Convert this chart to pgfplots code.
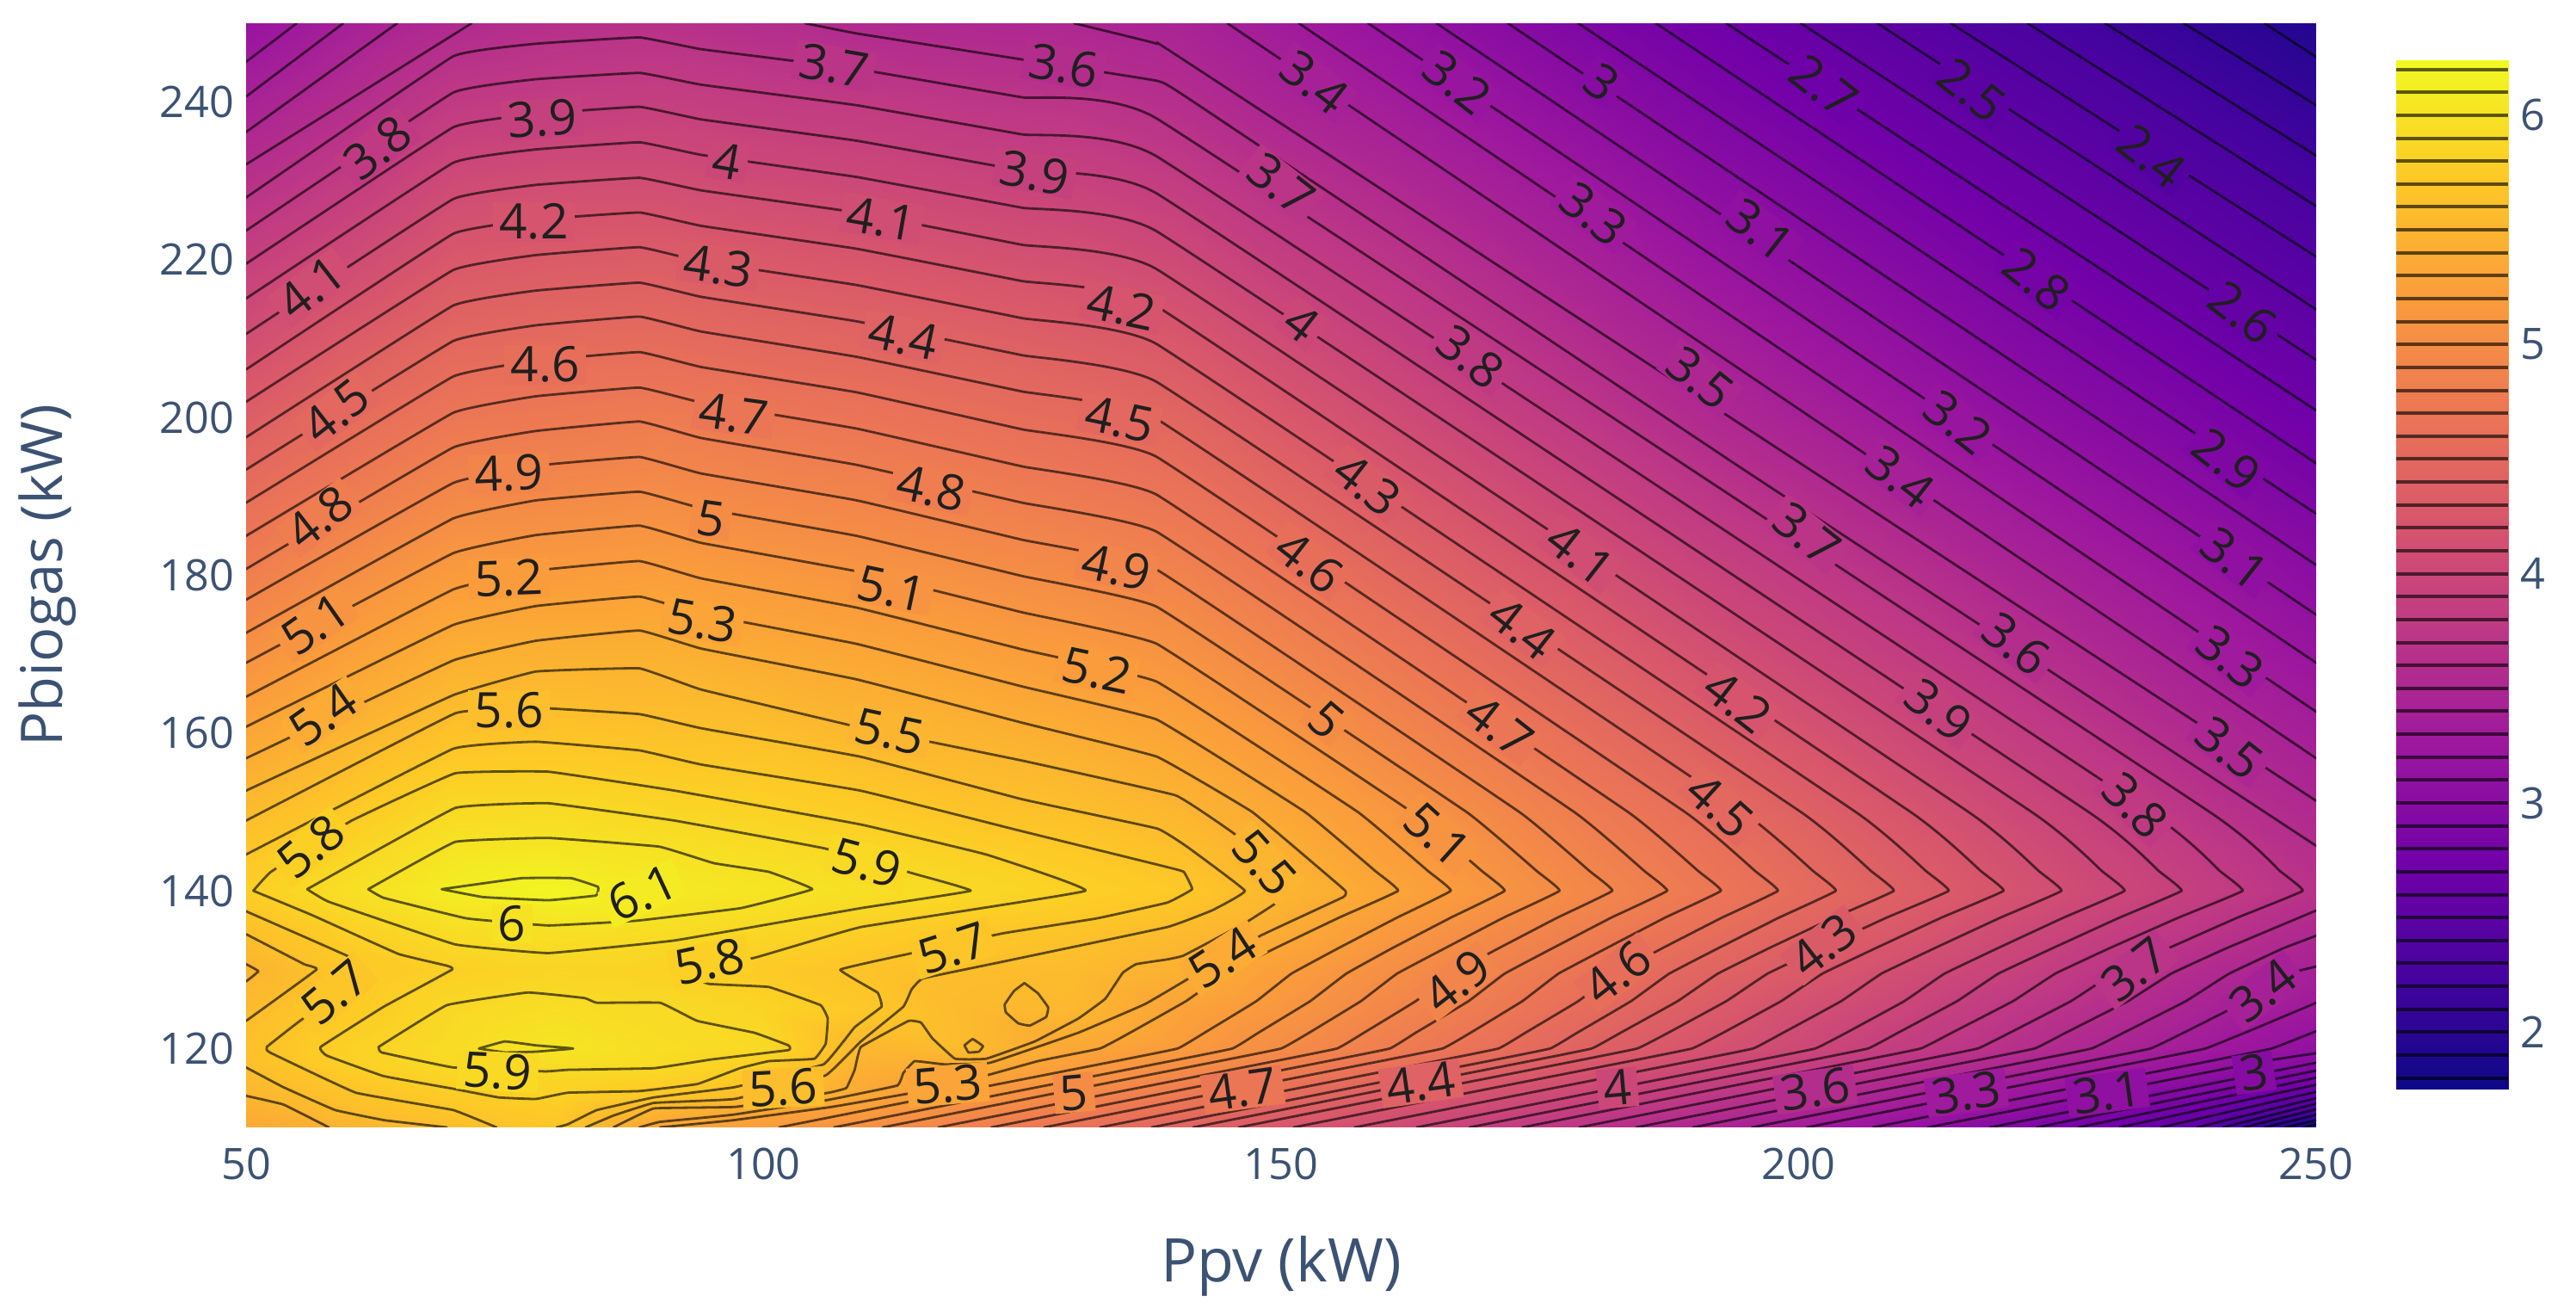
\documentclass[border=0pt]{standalone}
\usepackage{pgfplots}
\usepackage{fontspec}
\setmainfont{Open Sans}
\pgfplotsset{compat=1.18}
\definecolor{pl0}{RGB}{13,8,135}
\definecolor{pl1}{RGB}{70,3,159}
\definecolor{pl2}{RGB}{114,1,168}
\definecolor{pl3}{RGB}{156,23,158}
\definecolor{pl4}{RGB}{189,55,134}
\definecolor{pl5}{RGB}{216,87,107}
\definecolor{pl6}{RGB}{237,121,83}
\definecolor{pl7}{RGB}{251,159,58}
\definecolor{pl8}{RGB}{253,202,38}
\definecolor{pl9}{RGB}{240,249,33}
\definecolor{tickc}{RGB}{60,82,115}
\globalcolorstrue
\foreach \L in {20,...,61}{%
  \pgfmathsetmacro{\tt}{(\L/10-1.75)/4.49*9}%
  \pgfmathtruncatemacro{\ia}{floor(\tt)}%
  \pgfmathtruncatemacro{\ib}{\ia+1}%
  \pgfmathtruncatemacro{\pc}{(\tt-\ia)*100}%
  \colorlet{lv\L}{pl\ib!\pc!pl\ia}%
}
\pgfplotsset{
  colormap={plasma}{rgb255=(13,8,135) rgb255=(70,3,159) rgb255=(114,1,168) rgb255=(156,23,158) rgb255=(189,55,134) rgb255=(216,87,107) rgb255=(237,121,83) rgb255=(251,159,58) rgb255=(253,202,38) rgb255=(240,249,33)},
  cl/.style={black,opacity=0.62,line width=0.7pt,line join=round,line cap=round,no markers,forget plot,smooth,tension=0.14}
}
\tikzset{lbl/.style={font=\fontsize{14.2}{14.2}\selectfont,text=black!88,inner xsep=1.8pt,inner ysep=0.2pt,text height=10.5pt,text depth=0.5pt,anchor=center}}
\newcommand\lab[5]{\node[lbl,rotate=#3,fill=lv#5] at (axis cs:#1,#2) {#4};}
\begin{document}
\begin{tikzpicture}
\path[use as bounding box] (0,0) rectangle (748.5pt,382pt);
\begin{axis}[
  at={(71.5pt,54.5pt)},anchor=south west,
  scale only axis,width=601.5pt,height=320.75pt,
  view={0}{90},
  xmin=50,xmax=250,ymin=110,ymax=250,
  xtick={50,100,150,200,250},ytick={120,140,160,180,200,220,240},
  axis line style={draw=none},tick style={draw=none},major tick length=0pt,
  /pgf/number format/assume math mode=true,
  tick label style={font=\fontsize{12.6}{13}\selectfont,text=tickc},
  xticklabel style={yshift=-2.4pt},
  xlabel={Ppv (kW)},ylabel={Pbiogas (kW)},
  every axis x label/.style={at={(axis description cs:0.5,-0.126)},anchor=center,font=\fontsize{17.5}{18}\selectfont,text=tickc},
  every axis y label/.style={at={(axis description cs:-0.096,0.5)},anchor=center,rotate=90,font=\fontsize{16.7}{17}\selectfont,text=tickc},
  point meta min=1.75,point meta max=6.24,
  colormap name=plasma,
  clip=true,
]
\addplot3[surf,shader=interp,mesh/ordering=y varies,mesh/rows=22,mesh/cols=21,forget plot] table[row sep=\\,header=false]{
50 110 5.35\\50 112 5.42\\50 114 5.50\\50 116 5.57\\50 118 5.61\\50 120 5.63\\50 125 5.57\\50 130 5.48\\50 135 5.62\\50 140 5.79\\50 145 5.69\\50 150 5.57\\50 160 5.32\\50 170 5.07\\50 180 4.82\\50 190 4.59\\50 200 4.35\\50 210 4.11\\50 220 3.89\\50 230 3.65\\50 240 3.42\\50 250 3.18\\
60 110 5.47\\60 112 5.59\\60 114 5.66\\60 116 5.72\\60 118 5.80\\60 120 5.82\\60 125 5.74\\60 130 5.71\\60 135 5.81\\60 140 5.97\\60 145 5.85\\60 150 5.73\\60 160 5.50\\60 170 5.26\\60 180 5.03\\60 190 4.79\\60 200 4.55\\60 210 4.32\\60 220 4.06\\60 230 3.83\\60 240 3.60\\60 250 3.39\\
70 110 5.60\\70 112 5.69\\70 114 5.76\\70 116 5.84\\70 118 5.91\\70 120 5.93\\70 125 5.89\\70 130 5.80\\70 135 5.95\\70 140 6.12\\70 145 6.03\\70 150 5.91\\70 160 5.65\\70 170 5.43\\70 180 5.19\\70 190 4.95\\70 200 4.71\\70 210 4.49\\70 220 4.26\\70 230 4.05\\70 240 3.80\\70 250 3.55\\
80 110 5.70\\80 112 5.74\\80 114 5.82\\80 116 5.85\\80 118 5.93\\80 120 6.03\\80 125 5.95\\80 130 5.85\\80 135 5.98\\80 140 6.20\\80 145 6.04\\80 150 5.92\\80 160 5.67\\80 170 5.45\\80 180 5.20\\80 190 4.97\\80 200 4.74\\80 210 4.53\\80 220 4.31\\80 230 4.10\\80 240 3.85\\80 250 3.64\\
90 110 5.30\\90 112 5.47\\90 114 5.71\\90 116 5.82\\90 118 5.91\\90 120 5.95\\90 125 5.91\\90 130 5.82\\90 135 5.95\\90 140 6.08\\90 145 6.00\\90 150 5.87\\90 160 5.64\\90 170 5.45\\90 180 5.23\\90 190 5.00\\90 200 4.78\\90 210 4.55\\90 220 4.33\\90 230 4.10\\90 240 3.88\\90 250 3.66\\
100 110 5.21\\100 112 5.32\\100 114 5.57\\100 116 5.70\\100 118 5.79\\100 120 5.90\\100 125 5.85\\100 130 5.74\\100 135 5.88\\100 140 6.03\\100 145 5.94\\100 150 5.83\\100 160 5.62\\100 170 5.38\\100 180 5.16\\100 190 4.94\\100 200 4.71\\100 210 4.49\\100 220 4.27\\100 230 4.05\\100 240 3.83\\100 250 3.60\\
110 110 5.03\\110 112 5.19\\110 114 5.33\\110 116 5.38\\110 118 5.45\\110 120 5.52\\110 125 5.71\\110 130 5.66\\110 135 5.79\\110 140 5.97\\110 145 5.87\\110 150 5.76\\110 160 5.52\\110 170 5.33\\110 180 5.11\\110 190 4.89\\110 200 4.67\\110 210 4.45\\110 220 4.23\\110 230 4.01\\110 240 3.80\\110 250 3.54\\
120 110 4.84\\120 112 4.98\\120 114 5.16\\120 116 5.30\\120 118 5.42\\120 120 5.56\\120 125 5.55\\120 130 5.59\\120 135 5.71\\120 140 5.90\\120 145 5.80\\120 150 5.67\\120 160 5.48\\120 170 5.26\\120 180 5.04\\120 190 4.83\\120 200 4.61\\120 210 4.40\\120 220 4.18\\120 230 3.96\\120 240 3.74\\120 250 3.52\\
130 110 4.65\\130 112 4.79\\130 114 4.93\\130 116 5.12\\130 118 5.23\\130 120 5.34\\130 125 5.53\\130 130 5.57\\130 135 5.67\\130 140 5.82\\130 145 5.73\\130 150 5.62\\130 160 5.40\\130 170 5.19\\130 180 4.98\\130 190 4.76\\130 200 4.55\\130 210 4.34\\130 220 4.13\\130 230 3.92\\130 240 3.71\\130 250 3.50\\
140 110 4.44\\140 112 4.60\\140 114 4.75\\140 116 4.90\\140 118 5.05\\140 120 5.20\\140 125 5.29\\140 130 5.45\\140 135 5.58\\140 140 5.73\\140 145 5.62\\140 150 5.51\\140 160 5.30\\140 170 5.09\\140 180 4.88\\140 190 4.67\\140 200 4.46\\140 210 4.25\\140 220 4.04\\140 230 3.83\\140 240 3.62\\140 250 3.44\\
150 110 4.22\\150 112 4.38\\150 114 4.56\\150 116 4.70\\150 118 4.86\\150 120 5.00\\150 125 5.13\\150 130 5.23\\150 135 5.39\\150 140 5.52\\150 145 5.43\\150 150 5.34\\150 160 5.13\\150 170 4.91\\150 180 4.70\\150 190 4.48\\150 200 4.27\\150 210 4.07\\150 220 3.86\\150 230 3.66\\150 240 3.45\\150 250 3.32\\
160 110 4.07\\160 112 4.18\\160 114 4.33\\160 116 4.51\\160 118 4.66\\160 120 4.81\\160 125 4.93\\160 130 5.04\\160 135 5.18\\160 140 5.33\\160 145 5.24\\160 150 5.15\\160 160 4.94\\160 170 4.73\\160 180 4.51\\160 190 4.30\\160 200 4.09\\160 210 3.90\\160 220 3.72\\160 230 3.53\\160 240 3.34\\160 250 3.18\\
170 110 3.87\\170 112 4.01\\170 114 4.14\\170 116 4.29\\170 118 4.46\\170 120 4.62\\170 125 4.75\\170 130 4.86\\170 135 4.99\\170 140 5.13\\170 145 5.05\\170 150 4.96\\170 160 4.75\\170 170 4.54\\170 180 4.33\\170 190 4.12\\170 200 3.91\\170 210 3.73\\170 220 3.56\\170 230 3.38\\170 240 3.20\\170 250 3.03\\
180 110 3.69\\180 112 3.82\\180 114 3.97\\180 116 4.10\\180 118 4.24\\180 120 4.40\\180 125 4.54\\180 130 4.67\\180 135 4.81\\180 140 4.94\\180 145 4.86\\180 150 4.77\\180 160 4.56\\180 170 4.36\\180 180 4.15\\180 190 3.95\\180 200 3.74\\180 210 3.57\\180 220 3.40\\180 230 3.23\\180 240 3.05\\180 250 2.88\\
190 110 3.50\\190 112 3.64\\190 114 3.78\\190 116 3.93\\190 118 4.07\\190 120 4.20\\190 125 4.33\\190 130 4.47\\190 135 4.62\\190 140 4.75\\190 145 4.67\\190 150 4.58\\190 160 4.38\\190 170 4.17\\190 180 3.97\\190 190 3.76\\190 200 3.56\\190 210 3.40\\190 220 3.23\\190 230 3.07\\190 240 2.90\\190 250 2.75\\
200 110 3.32\\200 112 3.45\\200 114 3.60\\200 116 3.74\\200 118 3.88\\200 120 4.03\\200 125 4.13\\200 130 4.29\\200 135 4.44\\200 140 4.56\\200 145 4.49\\200 150 4.40\\200 160 4.20\\200 170 4.00\\200 180 3.81\\200 190 3.61\\200 200 3.41\\200 210 3.25\\200 220 3.09\\200 230 2.93\\200 240 2.77\\200 250 2.60\\
210 110 3.15\\210 112 3.28\\210 114 3.42\\210 116 3.55\\210 118 3.69\\210 120 3.84\\210 125 3.97\\210 130 4.11\\210 135 4.26\\210 140 4.38\\210 145 4.31\\210 150 4.22\\210 160 4.03\\210 170 3.84\\210 180 3.65\\210 190 3.46\\210 200 3.27\\210 210 3.11\\210 220 2.95\\210 230 2.79\\210 240 2.63\\210 250 2.47\\
220 110 2.96\\220 112 3.10\\220 114 3.24\\220 116 3.37\\220 118 3.51\\220 120 3.65\\220 125 3.77\\220 130 3.93\\220 135 4.06\\220 140 4.20\\220 145 4.13\\220 150 4.04\\220 160 3.86\\220 170 3.67\\220 180 3.49\\220 190 3.30\\220 200 3.12\\220 210 2.96\\220 220 2.81\\220 230 2.65\\220 240 2.49\\220 250 2.33\\
230 110 2.71\\230 112 2.90\\230 114 3.07\\230 116 3.20\\230 118 3.33\\230 120 3.47\\230 125 3.60\\230 130 3.73\\230 135 3.88\\230 140 4.02\\230 145 3.95\\230 150 3.87\\230 160 3.69\\230 170 3.51\\230 180 3.34\\230 190 3.16\\230 200 2.98\\230 210 2.83\\230 220 2.67\\230 230 2.52\\230 240 2.36\\230 250 2.20\\
240 110 2.42\\240 112 2.65\\240 114 2.85\\240 116 3.03\\240 118 3.16\\240 120 3.29\\240 125 3.41\\240 130 3.55\\240 135 3.71\\240 140 3.85\\240 145 3.78\\240 150 3.69\\240 160 3.52\\240 170 3.35\\240 180 3.19\\240 190 3.02\\240 200 2.85\\240 210 2.69\\240 220 2.54\\240 230 2.38\\240 240 2.22\\240 250 2.06\\
250 110 1.75\\250 112 2.26\\250 114 2.54\\250 116 2.79\\250 118 2.98\\250 120 3.12\\250 125 3.28\\250 130 3.39\\250 135 3.52\\250 140 3.68\\250 145 3.61\\250 150 3.53\\250 160 3.37\\250 170 3.20\\250 180 3.04\\250 190 2.87\\250 200 2.71\\250 210 2.56\\250 220 2.40\\250 230 2.25\\250 240 2.09\\250 250 1.93\\
};
% top-right family
\addplot[cl] coordinates {(245,250)(250,245.7)};
\addplot[cl] coordinates {(237.2,250)(250,239.6)};
\addplot[cl] coordinates {(229.6,250)(250,233.2)};
\addplot[cl] coordinates {(222.1,250)(250,226.8)};
\addplot[cl] coordinates {(214.7,250)(250,220.4)};
\addplot[cl] coordinates {(207.6,250)(250,213.7)};
\addplot[cl] coordinates {(200.2,250)(250,207.3)};
\addplot[cl] coordinates {(193,250)(250,200.9)};
\addplot[cl] coordinates {(186.2,250)(250,194.2)};
\addplot[cl] coordinates {(178.7,250)(250,187.8)};
\addplot[cl] coordinates {(171.9,250)(250,181.3)};
\addplot[cl] coordinates {(165,250)(250,175)};
\addplot[cl] coordinates {(158.4,250)(250,168.9)};
\addplot[cl] coordinates {(151.7,250)(250,162.7)};
\addplot[cl] coordinates {(144.8,250)(250,156.8)};
\addplot[cl] coordinates {(130,250)(138,247.4)(141,245)(250,151.4)};
\addplot[cl] coordinates {(104,250)(109,248.7)(125,245.4)(138,242.7)(141,240.5)(194,194)(250,145.7)};
% top-left corners
\addplot[cl] coordinates {(50,245.1)(54.9,250)};
\addplot[cl] coordinates {(50,240.7)(59.4,250)};
\addplot[cl] coordinates {(50,236.2)(64.6,250)};
\addplot[cl] coordinates {(50,232.1)(71.8,250)};
% bottom-right band, low levels
\addplot[cl] coordinates {(250,110.4)(248.8,110)};
\addplot[cl] coordinates {(250,110.9)(247,110)};
\addplot[cl] coordinates {(250,111.6)(245,110)};
\addplot[cl] coordinates {(250,112.3)(243,110)};
\addplot[cl] coordinates {(250,113)(241,110)};
\addplot[cl] coordinates {(250,113.7)(238.5,110)};
\addplot[cl] coordinates {(250,114.5)(235,110)};
\addplot[cl] coordinates {(250,115.4)(231,110)};
\addplot[cl] coordinates {(250,116.3)(245,114.9)(227,110)};
\addplot[cl] coordinates {(250,117.2)(241,114.8)(223,110)};
\addplot[cl] coordinates {(250,118.2)(237,114.8)(218.5,110)};
\addplot[cl] coordinates {(250,119.4)(245,118.4)(231,114.8)(212.5,110)};
\addplot[cl] coordinates {(250,122.2)(245.7,120)(239.7,118.4)(225.7,114.8)(207.2,110)};
\addplot[cl] coordinates {(250,125.8)(244.4,122.7)(239.3,120)(233.3,118.4)(219.3,114.8)(200.8,110)};
\addplot[cl] coordinates {(250,130.4)(247.4,129.5)(243.2,126)(237.2,122)(234,120)(228,118.4)(214,114.8)(195.5,110)};
\addplot[cl] coordinates {(250,134.3)(246.8,132.7)(241.6,129.5)(237.4,126)(231.4,122)(228.3,120)(222.3,118.4)(208.3,114.8)(189.8,110)};
\addplot[cl] coordinates {(250,137.5)(241.3,132.7)(236,129.5)(231.8,126)(225.8,122)(222.8,120)(216.8,118.4)(202.8,114.8)(184.3,110)};
% main ridge-wrapping levels 3.7..5.3
\addplot[cl] coordinates {(50,227.9)(70,245.8)(78,247.4)(88,248.2)(94,246.7)(109,244.2)(125,240.6)(138,237.9)(239.7,150)(246.5,142.5)(248.7,140)(242.4,136.6)(235.7,132.7)(230.4,129.5)(226.3,126)(220.4,122)(217.3,120)(211.3,118.4)(197.3,114.8)(178.8,110)};
\addplot[cl] coordinates {(50,223.7)(70,241.2)(78,242.9)(88,243.7)(94,242.2)(109,239.6)(125,235.9)(138,233.1)(233.9,150)(240.7,142.5)(242.9,140)(236.7,136.6)(230,132.7)(224.8,129.5)(220.7,126)(214.8,122)(211.8,120)(205.8,118.4)(191.8,114.8)(173.3,110)};
\addplot[cl] coordinates {(50,219.5)(70,236.8)(78,238.5)(88,239.4)(94,237.8)(109,235.1)(125,231.3)(138,228.4)(228,150)(234.8,142.5)(237,140)(231,136.6)(224.5,132.7)(219.3,129.5)(215.3,126)(209.6,122)(206.7,120)(200.7,118.4)(186.7,114.8)(168.2,110)};
\addplot[cl] coordinates {(50,215.1)(70,232.3)(78,234)(88,234.9)(94,233.3)(109,230.5)(125,226.6)(138,223.6)(222.5,150)(229.3,142.5)(231.5,140)(225.6,136.6)(219.2,132.7)(214.1,129.5)(210.2,126)(204.6,122)(201.6,120)(195.6,118.4)(181.6,114.8)(163.1,110)};
\addplot[cl] coordinates {(50,210.6)(70,227.7)(78,229.5)(88,230.4)(94,228.8)(109,226)(125,221.9)(138,218.8)(216.4,150)(223.2,142.5)(225.4,140)(219.5,136.6)(213.1,132.7)(208,129.5)(204.1,126)(198.5,122)(195.6,120)(189.6,118.4)(175.6,114.8)(157.1,110)};
\addplot[cl] coordinates {(50,206.1)(70,223.3)(78,225.1)(88,226)(94,224.3)(109,221.4)(125,217.3)(138,214.1)(210.8,150)(217.6,142.5)(219.8,140)(213.8,136.6)(207.4,132.7)(202.3,129.5)(198.3,126)(192.7,122)(189.7,120)(183.7,118.4)(169.7,114.8)(151.2,110)};
\addplot[cl] coordinates {(50,202)(70,218.7)(78,220.6)(88,221.6)(94,219.8)(109,216.8)(125,212.6)(138,209.3)(205.5,150)(212.3,142.5)(214.5,140)(208.5,136.6)(202.1,132.7)(197,129.5)(193,126)(187.4,122)(184.4,120)(178.4,118.4)(164.4,114.8)(145.9,110)};
\addplot[cl] coordinates {(50,197.5)(70,214.2)(78,216.1)(88,217.1)(94,215.3)(109,212.2)(125,207.9)(138,204.5)(200.2,150)(207,142.5)(209.2,140)(203.4,136.6)(197.1,132.7)(192.2,129.5)(188.3,126)(182.8,122)(180,120)(174,118.4)(160,114.8)(141.5,110)};
\addplot[cl] coordinates {(50,193.4)(70,209.7)(78,211.7)(88,212.8)(94,210.9)(109,207.7)(125,203.3)(138,199.8)(194.6,150)(201.4,142.5)(203.6,140)(198.1,136.6)(192.2,132.7)(187.5,129.5)(183.8,126)(178.6,122)(176,120)(170,118.4)(156,114.8)(137.5,110)};
\addplot[cl] coordinates {(50,189.2)(70,205.2)(78,207.2)(88,208.3)(94,206.4)(109,203.2)(125,198.5)(138,195)(189,150)(195.8,142.5)(198,140)(192.6,136.6)(186.8,132.7)(182.3,129.5)(178.7,126)(173.6,122)(171,120)(165,118.4)(151,114.8)(132.5,110)};
\addplot[cl] coordinates {(50,185)(70,200.6)(78,202.7)(88,203.8)(94,201.9)(109,198.6)(125,193.8)(138,190.2)(183.5,150)(190.3,142.5)(192.5,140)(187.1,136.6)(181.4,132.7)(176.8,129.5)(173.3,126)(168.3,122)(165.6,120)(159.6,118.4)(145.6,114.8)(127.1,110)};
\addplot[cl] coordinates {(50,180.8)(70,196.2)(78,198.3)(88,199.5)(94,197.4)(109,194)(125,189.2)(138,185.5)(178.3,150)(185.1,142.5)(187.3,140)(181.9,136.6)(176.2,132.7)(171.6,129.5)(168.1,126)(163,122)(160.5,120)(154.5,118.4)(140.5,114.8)(122,110)};
\addplot[cl] coordinates {(50,176.9)(70,191.7)(78,193.9)(88,195)(94,192.9)(109,189.5)(125,184.5)(138,180.7)(173,150)(179.8,142.5)(182,140)(176.7,136.6)(171,132.7)(166.5,129.5)(163,126)(158,122)(155.4,120)(149.4,118.4)(135.4,114.8)(116.9,110)};
\addplot[cl] coordinates {(50,172.7)(70,187.2)(78,189.5)(88,190.6)(94,188.5)(109,185)(125,179.9)(138,176)(167.9,150)(174.7,142.5)(176.9,140)(171.5,136.6)(165.8,132.7)(161.2,129.5)(157.7,126)(152.7,122)(150,120)(144,118.4)(130,114.8)(111.5,110)};
\addplot[cl] coordinates {(50,168.9)(70,182.8)(78,185.1)(88,186.3)(94,184.1)(109,180.5)(125,175.3)(138,171.3)(162.6,150)(169.4,142.5)(171.6,140)(166.4,136.6)(160.7,132.7)(156.3,129.5)(152.8,126)(147.8,122)(145.3,120)(139.3,118.4)(125.3,114.8)(106.8,110)};
\addplot[cl] coordinates {(50,164.6)(70,178.2)(78,180.6)(88,181.8)(94,179.6)(109,175.9)(125,170.6)(138,166.5)(157.4,150)(164.2,142.5)(166.4,140)(161.2,136.6)(155.5,132.7)(151,129.5)(147.6,126)(142.6,122)(140,120)(134,118.4)(120,114.8)(101.5,110)};
\addplot[cl] coordinates {(50,160.8)(70,173.7)(78,176.1)(88,177.3)(94,175.1)(109,171.3)(125,165.9)(138,161.7)(152.3,150)(159.1,142.5)(161.3,140)(155.6,136.6)(149.4,132.7)(144.6,129.5)(140.8,126)(135.4,122)(132.5,120)(126.5,118.4)(117.4,115.1)(106.6,112.6)(97,110.9)(90,110)};
% 5.4
\addplot[cl] coordinates {(50,156.8)(70,169.2)(78,171.7)(88,173)(94,170.7)(109,166.8)(125,161.3)(138,157)(147.2,150)(154,142.5)(156.2,140)(156,139.2)(148,134.3)(140.2,128.2)(136.8,125.6)(130.4,122)(121.9,118.2)(117.4,118)(114.6,118.4)(113.5,116.9)(112.9,115.3)(106.3,113.5)(97,111.6)(90,110.7)(88,110)};
% 5.5
\addplot[cl] coordinates {(50,152.7)(70,164.8)(78,167.8)(88,168.2)(94,165.5)(109,160.8)(125,156.5)(139.8,152.1)(145.4,147.3)(150.2,141.9)(151,140.2)(149.7,138.6)(146.5,135.9)(140.6,131.8)(139,131.3)(136,130.7)(134.7,129.6)(133,126.3)(130.4,123.8)(126.2,120.9)(121.5,118.7)(118.5,118.7)(116.3,121.3)(115.2,123.3)(114,123.5)(109.4,120.2)(108.8,117.3)(108,115)(106.3,114.4)(97.3,112.6)(89.4,112.4)(85.5,110)};
\addplot[cl] coordinates {(50,130.7)(51.2,129.8)(50,128.5)};
\addplot[cl] coordinates {(50,114)(53.6,112.9)(58,110)};
% 5.6
\addplot[cl] coordinates {(50,148.9)(70.2,162.5)(78,163.2)(88,162.4)(94,160.6)(109.35,157)(125,151.6)(138,147.9)(141,145.5)(146.5,140)(143.3,137.5)(139,135.4)(122.7,130.9)(115.4,128.9)(114.3,127.5)(113.5,125.3)(109.4,120.9)(106,116.6)(97.2,113.6)(89.4,113.1)(85.5,111.5)(82.8,110)};
\addplot[cl] coordinates {(50,134.5)(55.6,130.7)(56.8,130)(50,123.5)};
\addplot[cl] coordinates {(50,117.6)(53.6,115.1)(58.6,112.2)(63.4,110.9)(69.4,110)};
% 5.7
\addplot[cl] coordinates {(50,144.6)(70,158)(78,158.9)(88,157.8)(94,156)(109.35,152.7)(124.2,147.8)(139,143)(140.6,142.4)(141.4,140.2)(139,138.5)(132.2,136.5)(123.1,134.6)(114,132)(107.4,130)(111,127.1)(111.4,125.3)(108.8,122.7)(105.8,118)(97.2,115.1)(89.4,113.8)(83.9,112.2)(81.1,110.4)(80,110)};
\addplot[cl] coordinates {(50,137.4)(60.2,131.5)(61.7,129.6)(55.2,123.5)(52,120.2)(52.3,119.5)(60.6,114.4)(70,112.2)(74.2,110)};
% 5.8
\addplot[cl] coordinates {(50.7,140)(52.4,142.4)(60.2,148.9)(70.2,154.9)(79.2,155.1)(91.4,152.7)(109.4,148.4)(121.5,144.6)(131.1,140)(109.4,135.4)(99.1,131.5)(91.5,130)(94.7,128.2)(100.5,127.8)(105.5,125.5)(106.2,123.8)(106,120.6)(104.9,118.7)(100.5,118.4)(97.7,117.5)(93.6,115.5)(88,114.6)(81.1,114.4)(78,113.6)(74.4,113.8)(70,114.9)(63.3,116.5)(57.8,119.1)(57.2,120.2)(63.3,125.3)(69.9,130)(69.4,130.5)(64.7,132)(56.4,136.9)(50.7,140)};
% 5.9
\addplot[cl] coordinates {(55.9,140.2)(70.2,150.5)(79.2,151.1)(91.4,148.9)(105.8,145.4)(114.7,142.1)(120,140)(109.4,137.8)(91.4,133.7)(79.2,132.1)(70.2,133.2)(58,138.6)(55.9,140.2)};
\addplot[cl] coordinates {(62.8,120.2)(69.4,125.5)(77.2,127.1)(82.7,126.4)(83.9,125.8)(90,125.8)(93.6,123.5)(99.1,122)(102.4,120.4)(102.4,119.8)(94.9,118.6)(89.4,117.5)(81.1,117.3)(78.9,117.1)(70,117.6)(63.1,119.5)(62.8,120.2)};
% 6.0
\addplot[cl] coordinates {(61.8,140.2)(70.2,146.2)(79.2,146.7)(89.9,145.6)(95.2,143.5)(100.5,142.4)(104.7,140.2)(97.8,137.8)(87.7,136.2)(79.2,135.6)(71.3,136.5)(63.3,139.1)(61.8,140.2)};
\addplot[cl] coordinates {(72.5,120)(75,120.9)(78,120.4)(81.6,120)(78,119.6)(75,119.5)(72.5,120)};
% 6.1
\addplot[cl] coordinates {(68.9,140.2)(76.6,141.6)(81.4,141.6)(84,140.5)(83.8,139.4)(79.2,138.8)(72.9,139.2)(68.9,140.2)};
% small closed loops
\addplot[cl] coordinates {(125.2,128.3)(126.5,127)(127.5,125.2)(127.3,124)(125.7,122.9)(124.6,123.2)(123.4,124.6)(123.3,125.6)(124.2,127.3)(125.2,128.3)};
\addplot[cl] coordinates {(119.4,120.4)(120.2,121.2)(121.2,120.3)(120.8,119.6)(119.8,119.5)(119.4,120.4)};
% labels
\lab{106.8}{244.6}{-10}{3.7}{37}
\lab{129}{244.6}{-10}{3.6}{36}
\lab{153.2}{242.5}{-38}{3.4}{34}
\lab{167}{242.5}{-38}{3.2}{32}
\lab{181}{242.5}{-38}{3}{30}
\lab{202.4}{242}{-38}{2.7}{27}
\lab{216.7}{241.5}{-38}{2.5}{25}
\lab{234.1}{233.1}{-38}{2.4}{24}
\lab{62.7}{234.2}{38}{3.8}{38}
\lab{78.6}{237.9}{4}{3.9}{39}
\lab{96.5}{232.5}{-10}{4}{40}
\lab{126.2}{231}{-10}{3.9}{39}
\lab{150}{229.6}{-38}{3.7}{37}
\lab{180.2}{225.8}{-38}{3.3}{33}
\lab{196.3}{223.8}{-38}{3.1}{31}
\lab{223}{217.5}{-38}{2.8}{28}
\lab{242.9}{213.3}{-38}{2.6}{26}
\lab{77.8}{224.8}{0}{4.2}{42}
\lab{111.4}{225.2}{-10}{4.1}{41}
\lab{56.3}{216.5}{38}{4.1}{41}
\lab{95.6}{219.2}{-8}{4.3}{43}
\lab{134.6}{214}{-12}{4.2}{42}
\lab{152}{211.9}{-38}{4}{40}
\lab{168.3}{207.7}{-38}{3.8}{38}
\lab{190.5}{205}{-38}{3.5}{35}
\lab{215.4}{199.4}{-38}{3.2}{32}
\lab{241.3}{194.6}{-38}{2.9}{29}
\lab{113.5}{210.2}{-12}{4.4}{44}
\lab{78.9}{206.7}{0}{4.6}{46}
\lab{58.7}{200.8}{38}{4.5}{45}
\lab{97.1}{200.4}{-8}{4.7}{47}
\lab{134.4}{199.8}{-12}{4.5}{45}
\lab{158.3}{191.5}{-38}{4.3}{43}
\lab{209.8}{192.5}{-38}{3.4}{34}
\lab{200.8}{185.2}{-38}{3.7}{37}
\lab{75.4}{192.9}{2}{4.9}{49}
\lab{116.2}{191}{-12}{4.8}{48}
\lab{57.1}{187.3}{38}{4.8}{48}
\lab{94.9}{187.1}{-8}{5}{50}
\lab{134.1}{181}{-12}{4.9}{49}
\lab{152.7}{181.7}{-38}{4.6}{46}
\lab{178.9}{182.7}{-38}{4.1}{41}
\lab{242.1}{182.1}{-38}{3.1}{31}
\lab{75.4}{179.6}{2}{5.2}{52}
\lab{94.1}{174.2}{-10}{5.3}{53}
\lab{112.4}{178.3}{-12}{5.1}{51}
\lab{56.7}{173.8}{35}{5.1}{51}
\lab{173.3}{173.3}{-38}{4.4}{44}
\lab{221}{171.3}{-38}{3.6}{36}
\lab{241.7}{169.6}{-38}{3.3}{33}
\lab{132.2}{167.9}{-12}{5.2}{52}
\lab{171.1}{160.8}{-38}{4.7}{47}
\lab{194.1}{164}{-38}{4.2}{42}
\lab{213.5}{162.9}{-38}{3.9}{39}
\lab{75.4}{162.9}{0}{5.6}{56}
\lab{57.5}{162.3}{35}{5.4}{54}
\lab{154.4}{161.7}{-40}{5}{50}
\lab{112.2}{160.2}{-12}{5.5}{55}
\lab{241.6}{158.1}{-38}{3.5}{35}
\lab{192.4}{150.8}{-42}{4.5}{45}
\lab{232.5}{150.8}{-45}{3.8}{38}
\lab{165.1}{147.1}{-42}{5.1}{51}
\lab{56.3}{145.6}{40}{5.8}{58}
\lab{110}{143.5}{-15}{5.9}{59}
\lab{148.4}{143.5}{-48}{5.5}{55}
\lab{88.3}{139.7}{25}{6.1}{61}
\lab{75.7}{135.8}{0}{6}{60}
\lab{94.8}{131}{12}{5.8}{58}
\lab{118.3}{132.7}{18}{5.7}{57}
\lab{144.4}{131.5}{33}{5.4}{54}
\lab{167}{128.5}{38}{4.9}{49}
\lab{182.5}{129.6}{38}{4.6}{46}
\lab{202.4}{133.1}{38}{4.3}{43}
\lab{232.5}{130}{38}{3.7}{37}
\lab{244.9}{127.3}{38}{3.4}{34}
\lab{58.6}{127.1}{40}{5.7}{57}
\lab{74.3}{117.1}{-3}{5.9}{59}
\lab{101.9}{115}{3}{5.6}{56}
\lab{117.8}{115.4}{5}{5.3}{53}
\lab{130}{114.4}{5}{5}{50}
\lab{146.3}{114.8}{8}{4.7}{47}
\lab{163.5}{115.6}{8}{4.4}{44}
\lab{182.5}{115}{5}{4}{40}
\lab{201.6}{114.8}{8}{3.6}{36}
\lab{216.2}{114.4}{8}{3.3}{33}
\lab{229.8}{114.4}{8}{3.1}{31}
\lab{244}{116.9}{8}{3}{30}
\end{axis}
\begin{axis}[
  at={(696.25pt,65.5pt)},anchor=south west,
  scale only axis,width=32.5pt,height=299pt,
  view={0}{90},
  xmin=0,xmax=1,ymin=1.75,ymax=6.24,
  xtick=\empty,ytick={2,3,4,5,6},
  yticklabel pos=right,
  axis line style={draw=none},tick style={draw=none},major tick length=0pt,
  /pgf/number format/assume math mode=true,
  tick label style={font=\fontsize{12.6}{13}\selectfont,text=tickc},
  point meta min=1.75,point meta max=6.24,
  colormap name=plasma,
]
\addplot3[surf,shader=interp,mesh/rows=2,mesh/cols=2,forget plot] coordinates {
(0,1.75,1.75)(1,1.75,1.75)

(0,6.24,6.24)(1,6.24,6.24)
};
\addplot[xcomb,black,opacity=0.62,line width=1pt,no markers,forget plot] coordinates {(1,1.8)(1,1.9)(1,2)(1,2.1)(1,2.2)(1,2.3)(1,2.4)(1,2.5)(1,2.6)(1,2.7)(1,2.8)(1,2.9)(1,3)(1,3.1)(1,3.2)(1,3.3)(1,3.4)(1,3.5)(1,3.6)(1,3.7)(1,3.8)(1,3.9)(1,4)(1,4.1)(1,4.2)(1,4.3)(1,4.4)(1,4.5)(1,4.6)(1,4.7)(1,4.8)(1,4.9)(1,5)(1,5.1)(1,5.2)(1,5.3)(1,5.4)(1,5.5)(1,5.6)(1,5.7)(1,5.8)(1,5.9)(1,6)(1,6.1)(1,6.2)};
\end{axis}
\end{tikzpicture}
\end{document}
